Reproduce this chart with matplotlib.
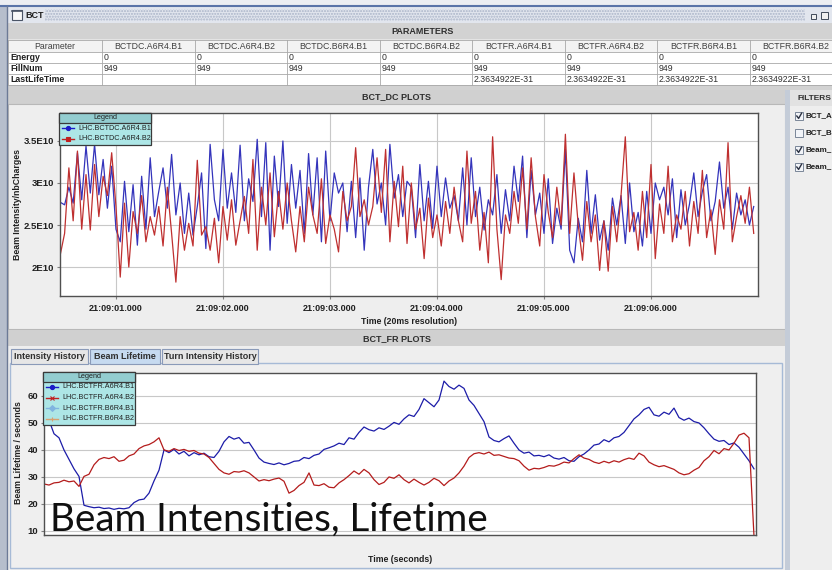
import numpy as np
import matplotlib
matplotlib.use("Agg")
import matplotlib.pyplot as plt
from matplotlib.patches import Rectangle

plt.rcParams['font.family'] = ['Liberation Sans', 'DejaVu Sans']

W, H = 832, 570

# ---- parameters table ----
param_header = "Parameter"
param_columns = ["BCTDC.A6R4.B1", "BCTDC.A6R4.B2", "BCTDC.B6R4.B1", "BCTDC.B6R4.B2",
                 "BCTFR.A6R4.B1", "BCTFR.A6R4.B2", "BCTFR.B6R4.B1", "BCTFR.B6R4.B2"]
param_rows = ["Energy", "FillNum", "LastLifeTime"]
energy = ["0", "0", "0", "0", "0", "0", "0", "0"]
fill_num = ["949", "949", "949", "949", "949", "949", "949", "949"]
last_life = ["", "", "", "", "2.3634922E-31", "2.3634922E-31", "2.3634922E-31", "2.3634922E-31"]

# ---- BCT_DC: beam intensity in units of 1E10 charges, samples from 21:09:00.48 ----
dc_start = 0.48
dc_step = 0.04
dc_b1 = [2.77, 2.74, 2.95, 2.76, 3.36, 2.80, 3.44, 2.88, 3.46, 2.86,
         3.28, 2.70, 3.20, 2.45, 2.30, 3.02, 2.42, 2.98, 2.26, 3.08,
         2.45, 3.30, 2.60, 2.90, 3.18, 2.70, 3.34, 2.62, 3.00, 2.40,
         2.88, 2.38, 2.72, 3.12, 2.22, 3.46, 2.80, 2.55, 3.40, 2.70,
         3.12, 2.65, 3.45, 2.55, 3.05, 2.78, 3.52, 2.60, 3.48, 2.20,
         3.32, 2.72, 3.50, 2.52, 3.22, 2.70, 3.15, 2.40, 3.35, 2.62,
         3.30, 2.30, 3.38, 2.55, 3.12, 2.88, 3.00, 2.42, 3.02, 2.35,
         3.06, 2.20, 2.95, 3.40, 2.75, 3.00, 2.50, 3.46, 2.82, 3.10,
         2.60, 3.02, 2.95, 2.35, 3.22, 2.55, 3.02, 2.46, 3.20, 2.60,
         3.06, 2.70, 2.85, 2.55, 3.18, 2.50, 3.30, 2.60, 2.95, 2.44,
         2.80, 2.62, 3.10, 2.40, 2.92, 2.55, 3.20, 2.78, 3.32, 2.35,
         3.15, 2.62, 2.88, 2.40, 3.05, 2.28, 2.70, 2.45, 3.40, 2.20,
         2.05, 2.58, 2.30, 3.15, 2.40, 2.86, 2.32, 2.55, 2.20, 2.82,
         2.50, 2.85, 2.28, 3.00, 2.42, 2.65, 2.25, 2.90, 2.40, 3.00,
         2.80, 2.95, 2.62, 3.05, 2.35, 2.92, 2.50, 2.75, 3.12, 2.60,
         2.90, 3.10, 2.55, 2.78, 3.25, 2.70, 2.95, 2.45, 2.88, 2.62,
         2.80, 2.50, 2.72]
dc_b2 = [2.15, 2.40, 3.18, 2.55, 3.38, 2.45, 3.10, 2.44, 3.22, 2.60,
         3.08, 2.85, 3.36, 2.72, 1.88, 2.76, 2.00, 2.66, 2.40, 2.85,
         2.30, 2.60, 2.38, 2.72, 2.25, 2.95, 2.40, 1.82, 2.60, 2.20,
         2.52, 2.25, 3.27, 2.38, 2.48, 2.20, 2.58, 2.05, 2.72, 2.32,
         2.80, 2.26, 2.55, 2.84, 2.40, 3.28, 2.20, 2.95, 2.50, 3.12,
         2.36, 2.90, 2.45, 3.00, 2.55, 2.18, 2.72, 2.30, 2.95, 2.62,
         2.40, 3.05, 2.28, 2.62, 2.45, 2.18, 2.90, 2.55, 2.72, 3.42,
         2.60, 2.80, 2.50, 2.72, 3.30, 2.65, 3.40, 2.30, 3.02, 2.48,
         3.20, 2.28, 3.00, 2.45, 2.70, 2.10, 2.82, 2.35, 2.62, 2.25,
         2.78, 2.40, 2.95, 2.55, 2.30, 3.38, 2.52, 2.90, 2.20, 2.65,
         2.05, 3.55, 2.45, 1.85, 2.62, 2.40, 2.90, 2.52, 3.18, 2.45,
         3.30, 2.60, 2.25, 3.10, 2.65, 2.35, 2.95, 2.50, 3.58, 2.40,
         3.12, 2.50, 2.08, 2.78, 2.30, 2.62, 1.96, 2.55, 1.95, 2.72,
         2.30, 2.85, 3.55, 2.42, 2.65, 2.20, 2.90, 2.35, 3.22, 2.10,
         2.75, 2.40, 3.20, 2.30, 2.62, 2.45, 2.90, 2.25, 2.78, 2.40,
         3.15, 2.35, 2.68, 2.15, 2.80, 2.45, 3.48, 2.30, 2.60, 2.85,
         2.52, 2.95, 2.40]
dc_yticks = [2.0, 2.5, 3.0, 3.5]
dc_ylabels = ["2E10", "2.5E10", "3E10", "3.5E10"]
dc_xticks = [1, 2, 3, 4, 5, 6]
dc_xlabels = ["21:09:01.000", "21:09:02.000", "21:09:03.000",
              "21:09:04.000", "21:09:05.000", "21:09:06.000"]
dc_names = ["LHC.BCTDC.A6R4.B1", "LHC.BCTDC.A6R4.B2"]

# ---- BCT_FR: beam lifetime in seconds, one sample every 5 s ----
fr_step = 5
fr_b1 = [53.0, 51.0, 46.0, 44.5, 40.0, 36.5, 33.0, 30.2, 19.5, 19.0,
         18.6, 18.8, 18.3, 18.5, 18.0, 18.4, 18.2, 18.6, 20.5, 21.5,
         21.8, 24.0, 28.5, 32.5, 40.0, 39.0, 40.2, 38.5, 39.5, 37.8,
         39.0, 38.2, 38.8, 37.5, 37.2, 39.5, 43.0, 45.0, 44.0, 44.6,
         42.5, 42.8, 40.0, 37.0, 35.5, 35.0, 34.6, 35.2, 34.5, 35.0,
         35.8, 36.0, 37.2, 36.8, 38.0, 38.5, 40.2, 40.8, 41.5, 42.5,
         42.0, 44.5, 44.0, 46.5, 48.5, 47.5, 47.0, 48.2, 47.6, 48.8,
         50.2, 49.5, 51.5, 53.0, 52.4, 55.0, 59.0, 57.5, 56.0, 58.5,
         65.5, 63.5, 62.5, 64.0, 62.8, 58.5, 56.5, 53.5, 50.5, 44.8,
         43.5, 43.0, 44.2, 45.2, 42.5, 40.0, 38.8, 39.2, 37.8, 38.0,
         37.5, 38.2, 37.0, 36.6, 37.2, 36.0, 35.8, 37.5, 38.5, 40.0,
         41.8, 42.2, 43.8, 43.0, 44.5, 45.0, 46.5, 49.0, 51.5, 53.0,
         55.0, 55.8, 53.0, 52.5, 54.0, 53.2, 55.5, 52.0, 51.0, 51.8,
         50.5, 50.0, 48.2, 46.0, 44.0, 43.2, 43.5, 42.0, 42.6, 41.0,
         38.5, 36.0, 33.0]
fr_b2 = [27.4, 27.0, 27.8, 28.0, 28.8, 28.2, 28.5, 26.5, 30.2, 31.0,
         34.5, 36.5, 37.2, 36.8, 37.5, 35.8, 36.2, 37.8, 38.5, 40.5,
         41.5, 42.0, 43.0, 44.5, 40.0, 39.5, 40.5, 39.8, 40.2, 39.5,
         39.8, 38.8, 38.5, 37.2, 35.0, 32.8, 31.5, 31.0, 32.0, 31.8,
         32.3, 31.5, 30.0, 28.5, 29.0, 28.6, 29.2, 29.6, 28.4, 24.0,
         25.0, 26.8, 28.0, 31.5, 27.0, 26.8, 27.5, 26.2, 26.0, 27.8,
         29.0, 30.5, 32.2, 31.0, 32.8, 31.5, 29.0, 27.2, 28.0, 30.0,
         29.5, 30.8, 29.0, 27.8, 29.2, 28.0, 27.0, 28.0, 29.5, 28.6,
         26.8, 28.5, 29.6, 31.5, 34.0, 37.2, 38.6, 39.0, 38.5, 39.2,
         38.0, 38.2, 37.6, 37.0, 36.8, 36.0, 34.0, 32.5, 33.2, 33.0,
         33.5, 34.2, 34.0, 34.6, 35.5, 35.2, 36.8, 38.2, 37.0, 36.5,
         35.5, 35.0, 35.8, 35.2, 36.0, 35.5, 36.4, 37.0, 36.5, 38.8,
         37.8, 35.5, 34.5, 33.8, 34.2, 33.5, 32.8, 31.5, 30.8, 31.2,
         32.5, 33.5, 36.0, 37.5, 39.8, 38.6, 40.5, 40.0, 42.5, 45.5,
         46.2, 44.5, 8.0]
fr_yticks = [10, 20, 30, 40, 50, 60]
fr_names = ["LHC.BCTFR.A6R4.B1", "LHC.BCTFR.A6R4.B2", "LHC.BCTFR.B6R4.B1", "LHC.BCTFR.B6R4.B2"]

tabs = ["Intensity History", "Beam Lifetime", "Turn Intensity History"]
filters = ["BCT_A", "BCT_B", "Beam_", "Beam_"]
filter_checked = [True, False, True, True]

BLUE = '#3434bb'
RED = '#bf3030'
FS = 6.3


def box(ax, x0, y0, x1, y1, fc, ec='none', lw=0.8, z=1, **kw):
    ax.add_patch(Rectangle((x0, y0), x1 - x0, y1 - y0, facecolor=fc,
                           edgecolor=ec, linewidth=lw, zorder=z, **kw))


def px_axes(x0, y0, x1, y1, z):
    return fig.add_axes([x0 / W, 1 - y1 / H, (x1 - x0) / W, (y1 - y0) / H], zorder=z)


fig = plt.figure(figsize=(W / 100, H / 100), dpi=100)
fig.patch.set_facecolor('#e4e4e4')

bg = fig.add_axes([0, 0, 1, 1], zorder=0)
bg.set_xlim(0, W)
bg.set_ylim(H, 0)
bg.axis('off')

# window chrome
box(bg, 0, 0, W, 6, '#eceef2')
bg.plot([0, W], [6, 6], color='#5a74a8', lw=1.5)
box(bg, 0, 6, 7, H, '#b6becc')
bg.plot([7, 7], [6, H], color='#6c7a96', lw=1)
box(bg, 7, 7, W, 23, '#e2e6ee')
box(bg, 45, 9, 805, 21, '#e2e6ee', ec='#aab4c8', lw=0, hatch='......')
box(bg, 12, 10, 22, 20, '#f8f8f8', ec='#4a5466', lw=0.8, z=2)
bg.plot([12, 22], [11.3, 11.3], color='#4a5466', lw=1.2, zorder=3)
bg.text(25, 15.5, "BCT", fontsize=6.5, fontweight='bold', va='center', color='#202020')
box(bg, 811, 14, 816, 19, '#f0f0f0', ec='#404a5a', lw=0.7, z=2)
box(bg, 821, 12, 828, 19, '#f0f0f0', ec='#404a5a', lw=0.7, z=2)

# parameters band + table
box(bg, 8, 23, W, 39, '#d2d2d2')
bg.text(423, 31, "PARAMETERS", fontsize=6.5, fontweight='bold', ha='center', va='center', color='#303030')
col_x = [8, 102, 195, 287, 380, 472, 565, 657, 750, 842]
row_y = [40, 52, 63, 74, 85]
box(bg, 8, 40, W, 85, 'white')
box(bg, 8, 40, W, 52, '#f3f3f3')
for x in col_x:
    bg.plot([x, x], [40, 85], color='#a8a8a8', lw=0.6)
for y in row_y:
    bg.plot([8, W], [y, y], color='#a8a8a8', lw=0.6)
bg.text((col_x[0] + col_x[1]) / 2, 46.2, param_header, fontsize=FS, ha='center', va='center', color='#404040')
for i, name in enumerate(param_columns):
    bg.text((col_x[i + 1] + col_x[i + 2]) / 2, 46.2, name, fontsize=FS, ha='center', va='center', color='#404040')
for r, (label, vals) in enumerate(zip(param_rows, [energy, fill_num, last_life])):
    yc = (row_y[r + 1] + row_y[r + 2]) / 2
    bg.text(10, yc, label, fontsize=FS, fontweight='bold', va='center', color='#202020')
    for i, v in enumerate(vals):
        bg.text(col_x[i + 1] + 2, yc, v, fontsize=FS, va='center', color='#303030')
box(bg, 8, 85, W, 90, '#d2d2d2')

# plot panels
box(bg, 8, 90, 785, 104, '#d0d0d0')
bg.text(397, 97, "BCT_DC PLOTS", fontsize=6.5, fontweight='bold', ha='center', va='center', color='#303030')
box(bg, 8, 104, 785, 329, '#eeeeee', ec='#b8b8b8')
box(bg, 8, 330, 785, 346, '#d0d0d0')
bg.text(397, 339, "BCT_FR PLOTS", fontsize=6.5, fontweight='bold', ha='center', va='center', color='#303030')
box(bg, 8, 346, 785, H, '#eeeeee')
tab_x = [(11, 88), (90, 160), (162, 258)]
for k, (name, (x0, x1)) in enumerate(zip(tabs, tab_x)):
    box(bg, x0, 349, x1, 364, '#c6daf0' if k == 1 else '#e6e6e6', ec='#8a9ab8', lw=0.8, z=2)
    bg.text((x0 + x1) / 2, 356.5, name, fontsize=6.5, fontweight='bold', ha='center', va='center',
            color='#303030', zorder=3)
box(bg, 10, 363, 782, 568, '#efefef', ec='#a6bad6', lw=1, z=1)

# filters panel
box(bg, 785, 90, 790, H, '#c4ccd8')
box(bg, 790, 90, W, H, '#eeeeee')
box(bg, 790, 90, W, 106, '#e2e2e2')
bg.text(831, 98, "FILTERS", fontsize=6.0, fontweight='bold', ha='right', va='center', color='#303030')
for k, (name, checked) in enumerate(zip(filters, filter_checked)):
    yc = 116 + 17 * k
    box(bg, 795, yc - 4, 803, yc + 4, '#f2f4f8', ec='#7a8698', lw=0.7, z=2)
    if checked:
        bg.plot([796.8, 798.6, 801.6], [yc, yc + 2.4, yc - 2.8], color='#2a3040', lw=1, zorder=3)
    bg.text(805, yc, name, fontsize=5.8, fontweight='bold', va='center', color='#202020')

# ---- BCT_DC plot ----
ax1 = px_axes(60, 113, 758, 296, 2)
dc_t = dc_start + dc_step * np.arange(len(dc_b1))
ax1.plot(dc_t, dc_b1, color=BLUE, lw=0.9)
ax1.plot(dc_t, dc_b2, color=RED, lw=0.9)
ax1.set_xlim(0.477, 7.0)
ax1.set_ylim(1.655, 3.833)
ax1.set_xticks(dc_xticks, dc_xlabels)
ax1.set_yticks(dc_yticks, dc_ylabels)
ax1.grid(True, color='#c8c8c8', lw=0.8)
ax1.set_axisbelow(True)
ax1.tick_params(axis='x', length=2.5, pad=3.5, color='#808080', labelsize=6.5, labelcolor='#202020')
ax1.tick_params(axis='y', length=2.5, pad=1.5, color='#808080', labelsize=6.8, labelcolor='#202020')
for lab in ax1.get_xticklabels() + ax1.get_yticklabels():
    lab.set_fontweight('bold')
for s in ax1.spines.values():
    s.set_color('#505050')
    s.set_linewidth(1)
bg.text(409, 321, "Time (20ms resolution)", fontsize=6.3, fontweight='bold', ha='center', va='center', color='#202020')
bg.text(18, 204, "Beam Intensity/nbCharges", fontsize=6.3, fontweight='bold', rotation=90,
        ha='center', va='center', color='#202020')

# ---- BCT_FR plot ----
ax2 = px_axes(44, 373, 756, 535, 2)
fr_t1 = fr_step * np.arange(len(fr_b1))
fr_t2 = fr_step * np.arange(len(fr_b2))
ax2.plot(fr_t1, fr_b1, color='#1c1ca8', lw=0.9)
ax2.plot(fr_t2, fr_b2, color='#b41c1c', lw=0.9)
ax2.set_xlim(0, 712)
ax2.set_ylim(8.5, 68.5)
ax2.set_xticks([])
ax2.set_yticks(fr_yticks)
ax2.grid(True, axis='y', color='#c8c8c8', lw=0.8)
ax2.set_axisbelow(True)
ax2.tick_params(axis='y', length=2.5, pad=1.5, color='#808080', labelsize=6.8, labelcolor='#202020')
for lab in ax2.get_yticklabels():
    lab.set_fontweight('bold')
for s in ax2.spines.values():
    s.set_color('#505050')
    s.set_linewidth(1)
bg.text(400, 560, "Time (seconds)", fontsize=6.3, fontweight='bold', ha='center', va='center', color='#202020')
bg.text(19, 453, "Beam Lifetime / seconds", fontsize=6.3, fontweight='bold', rotation=90,
        ha='center', va='center', color='#202020')

# ---- overlay: legends and slide caption ----
ov = fig.add_axes([0, 0, 1, 1], zorder=10)
ov.set_xlim(0, W)
ov.set_ylim(H, 0)
ov.axis('off')
ov.patch.set_alpha(0)


def legend_box(x0, y0, x1, hdr, entries, line_x):
    y1 = hdr + 10.6 * len(entries) + 1
    box(ov, x0, y0, x1, y1, '#ade6e6', ec='#3a3a3a', lw=0.9, z=5)
    box(ov, x0, y0, x1, hdr, '#93cdd0', ec='#3a3a3a', lw=0.9, z=6)
    ov.text((x0 + x1) / 2, (y0 + hdr) / 2, "Legend", fontsize=5.2, ha='center', va='center',
            color='#202020', zorder=7)
    for k, (name, col, mk) in enumerate(entries):
        yc = hdr + 5.5 + 10.6 * k
        ov.plot([line_x, line_x + 12], [yc, yc], color=col, lw=1, zorder=7)
        ov.plot([line_x + 6], [yc], color=col, marker=mk, ms=3, mew=0.8, zorder=8)
        ov.text(line_x + 16, yc, name, fontsize=5.2, va='center', color='#202020', zorder=7)


legend_box(59, 113, 151, 122.5,
           [(dc_names[0], '#1c1cc8', 'o'), (dc_names[1], '#c02020', 's')], 62)
legend_box(43, 372, 135, 381.5,
           [(fr_names[0], '#1c1cc8', 'o'), (fr_names[1], '#c02020', 'x'),
            (fr_names[2], '#80b4e0', 'D'), (fr_names[3], '#d8a070', '+')], 46)

ov.text(50, 531, "Beam Intensities, Lifetime", fontsize=27.8, family=['Lato', 'DejaVu Sans'],
        va='baseline', color='#101010', zorder=9)

fig.savefig("out.png", dpi=100)
